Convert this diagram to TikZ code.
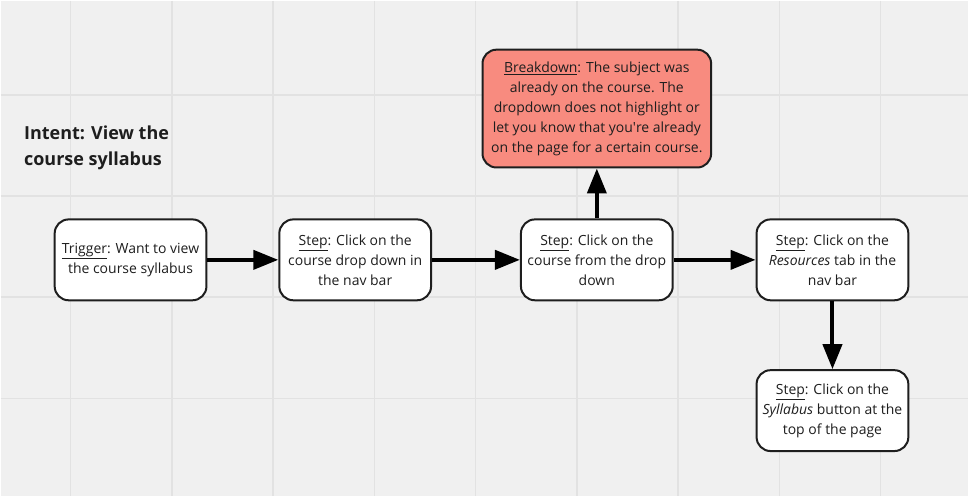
\documentclass[tikz,border=0pt]{standalone}
\usepackage{fontspec}
\setmainfont{Open Sans}
\usetikzlibrary{positioning,arrows.meta}
\definecolor{canvas}{HTML}{F0F0F0}
\definecolor{gridline}{HTML}{E2E2E2}
\definecolor{ink}{HTML}{1E1E1E}
\definecolor{salmon}{HTML}{F88B7F}
\newcommand{\ulword}[1]{\underline{#1}}

\begin{document}
\begin{tikzpicture}[x=1pt,y=1pt,thick,
  step node/.style={draw=ink,line width=2pt,rounded corners=14pt,fill=white,minimum width=152pt,minimum height=81pt,align=center,inner sep=0pt,text=ink,font=\fontsize{14}{20}\selectfont},
  break node/.style={step node,fill=salmon,minimum width=229pt,minimum height=118pt},
  flow/.style={draw=black,line width=4pt,-{Triangle[length=25pt,width=19pt]}}]
\fill[canvas] (0,0) rectangle (969,-496);
\foreach \gx in {0,...,8}
  \draw[gridline,line width=1.5pt] ({70+101.4*\gx},0) -- ({70+101.4*\gx},-496);
\foreach \gy in {0,...,3}
  \draw[gridline,line width=1.5pt] (0,{-94.3-101.3*\gy}) -- (969,{-94.3-101.3*\gy});
\useasboundingbox (0,0) rectangle (969,-496);

\node[anchor=north west,align=left,inner sep=0pt,text=ink,font=\bfseries\fontsize{18}{26}\selectfont] (intent) at (23,-125) {Intent: View the\\course syllabus};

\node[step node] (1) at (130,-259.5) {\ulword{Trigger}: Want to view\\the course syllabus};
\node[step node] (2) [right=71pt of 1] {\ulword{Step}: Click on the\\course drop down in\\the nav bar};
\node[step node] (3) [right=88pt of 2] {\ulword{Step}: Click on the\\course from the drop\\down};
\node[step node] (4) [right=82pt of 3] {\ulword{Step}: Click on the\\\textit{Resources} tab in the\\nav bar};
\node[step node] (5) [below=68pt of 4] {\ulword{Step}: Click on the\\\textit{Syllabus} button at the\\top of the page};
\node[break node] (6) [above=50pt of 3] {\ulword{Breakdown}: The subject was\\already on the course. The\\dropdown does not highlight or\\let you know that you\textquotesingle re already\\on the page for a certain course.};

\path[flow]
(1) edge (2)
(2) edge (3)
(3) edge (4)
edge (6)
(4) edge (5)
;
\end{tikzpicture}
\end{document}
